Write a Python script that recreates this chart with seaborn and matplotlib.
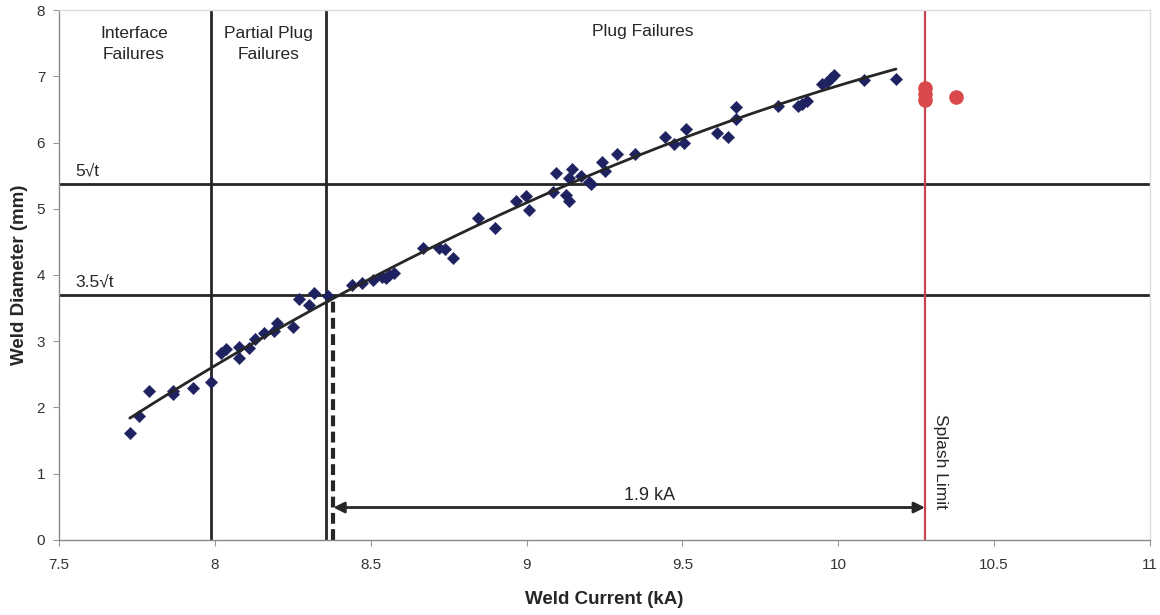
import numpy as np
import pandas as pd
import matplotlib
matplotlib.use("Agg")
import matplotlib.pyplot as plt
import seaborn as sns

# Weld current (kA) and measured weld diameter (mm)
current_ka = [
    7.727, 7.757, 7.788, 7.864, 7.865, 7.930, 7.989, 8.018, 8.035, 8.077,
    8.077, 8.108, 8.128, 8.159, 8.189, 8.200, 8.250, 8.271, 8.301, 8.319,
    8.364, 8.441, 8.473, 8.508, 8.537, 8.550, 8.560, 8.576, 8.668, 8.720,
    8.738, 8.765, 8.844, 8.899, 8.967, 8.999, 9.008, 9.085, 9.093, 9.125,
    9.136, 9.136, 9.146, 9.173, 9.200, 9.205, 9.242, 9.253, 9.290, 9.349,
    9.445, 9.472, 9.504, 9.511, 9.610, 9.645, 9.673, 9.673, 9.808, 9.870,
    9.883, 9.899, 9.947, 9.963, 9.977, 9.987, 10.083, 10.185,
]
diameter_mm = [
    1.61, 1.87, 2.25, 2.25, 2.20, 2.30, 2.38, 2.82, 2.89, 2.91,
    2.74, 2.90, 3.04, 3.12, 3.16, 3.27, 3.22, 3.64, 3.55, 3.73,
    3.68, 3.85, 3.88, 3.92, 3.97, 3.95, 4.00, 4.03, 4.40, 4.41,
    4.39, 4.25, 4.86, 4.71, 5.12, 5.19, 4.98, 5.26, 5.54, 5.21,
    5.12, 5.46, 5.60, 5.49, 5.41, 5.37, 5.71, 5.57, 5.82, 5.83,
    6.08, 5.98, 6.00, 6.21, 6.14, 6.09, 6.53, 6.35, 6.55, 6.55,
    6.58, 6.62, 6.89, 6.92, 6.97, 7.02, 6.94, 6.96,
]

# Welds that splashed
splash_current_ka = [10.278, 10.278, 10.278, 10.379]
splash_diameter_mm = [6.82, 6.73, 6.64, 6.68]

# Reference levels and boundaries
interface_limit_ka = 7.987
partial_plug_limit_ka = 8.355
min_current_ka = 8.38
splash_limit_ka = 10.278
level_5_sqrt_t = 5.37
level_3_5_sqrt_t = 3.70
window_label = "1.9 kA"

x_ticks = [7.5, 8, 8.5, 9, 9.5, 10, 10.5, 11]
x_tick_labels = ["7.5", "8", "8.5", "9", "9.5", "10", "10.5", "11"]
y_ticks = [0, 1, 2, 3, 4, 5, 6, 7, 8]

sns.set_theme(style="white")
plt.rcParams["font.family"] = ["Liberation Sans", "DejaVu Sans"]

fig = plt.figure(figsize=(11.6, 6.15), dpi=100)
ax = fig.add_axes([0.0509, 0.1220, 0.9405, 0.8617])

welds = pd.DataFrame({"current": current_ka, "diameter": diameter_mm})
splash = pd.DataFrame({"current": splash_current_ka, "diameter": splash_diameter_mm})

# Second order trend line through the weld data
coef = np.polyfit(welds["current"], welds["diameter"], 2)
trend_x = np.linspace(min(current_ka), max(current_ka), 200)
trend = pd.DataFrame({"current": trend_x, "diameter": np.polyval(coef, trend_x)})

line_col = "#262626"

# Region boundaries and size levels
ax.axvline(interface_limit_ka, color=line_col, lw=2.0, zorder=2)
ax.axvline(partial_plug_limit_ka, color=line_col, lw=2.0, zorder=2)
ax.axhline(level_5_sqrt_t, color=line_col, lw=2.0, zorder=2)
ax.axhline(level_3_5_sqrt_t, color=line_col, lw=2.0, zorder=2)
ax.axvline(splash_limit_ka, color="#c9434d", lw=1.6, zorder=2)
ax.plot([min_current_ka, min_current_ka], [0, level_3_5_sqrt_t], color=line_col,
        lw=3.0, dashes=(2.6, 1.3), zorder=2)

sns.scatterplot(data=welds, x="current", y="diameter", marker="D", s=40,
                color="#1f2260", edgecolor="#1f2260", linewidth=0.3, ax=ax, zorder=3)
sns.lineplot(data=trend, x="current", y="diameter", color=line_col, lw=2.0,
             ax=ax, zorder=4)
sns.scatterplot(data=splash, x="current", y="diameter", marker="o", s=110,
                color="#d9484a", edgecolor="#d9484a", linewidth=0, ax=ax, zorder=3)

# Operating window arrow
ax.annotate("", xy=(min_current_ka, 0.49), xytext=(splash_limit_ka, 0.49),
            arrowprops=dict(arrowstyle="<|-|>", color=line_col, lw=2.0,
                            mutation_scale=16, shrinkA=0, shrinkB=0), zorder=5)
ax.text(9.395, 0.54, window_label, ha="center", va="bottom", fontsize=13,
        color="#262626")

# Region labels
ax.text(7.74, 7.49, "Interface\nFailures", ha="center", va="center",
        fontsize=12.5, color="#262626", linespacing=1.5)
ax.text(8.172, 7.49, "Partial Plug\nFailures", ha="center", va="center",
        fontsize=12.5, color="#262626", linespacing=1.5)
ax.text(9.371, 7.67, "Plug Failures", ha="center", va="center",
        fontsize=12.5, color="#262626")
ax.text(7.553, level_5_sqrt_t + 0.08, "5\u221at", ha="left", va="bottom",
        fontsize=12.5, color="#262626")
ax.text(7.553, level_3_5_sqrt_t + 0.08, "3.5\u221at", ha="left", va="bottom",
        fontsize=12.5, color="#262626")
ax.text(10.327, 1.18, "Splash Limit", ha="center", va="center", rotation=-90,
        fontsize=12.5, color="#262626")

ax.set_xlim(7.5, 11)
ax.set_ylim(0, 8)
ax.set_xticks(x_ticks)
ax.set_xticklabels(x_tick_labels)
ax.set_yticks(y_ticks)
ax.tick_params(axis="both", labelsize=11, colors="#333333", length=4,
               width=0.8, direction="out", bottom=True, left=True, pad=6)
ax.tick_params(axis="x", colors="#999999", labelcolor="#333333", pad=9)
ax.tick_params(axis="y", colors="#999999", labelcolor="#333333")

ax.set_xlabel("Weld Current (kA)", fontsize=13.5, fontweight="bold",
              color="#262626", labelpad=14)
ax.set_ylabel("Weld Diameter (mm)", fontsize=13.5, fontweight="bold",
              color="#262626", labelpad=6)

for side in ("left", "bottom"):
    ax.spines[side].set_color("#8a8a8a")
    ax.spines[side].set_linewidth(1.0)
for side in ("top", "right"):
    ax.spines[side].set_color("#dcdcdc")
    ax.spines[side].set_linewidth(1.0)

ax.grid(False)
fig.savefig("out.png", dpi=100, facecolor="white")
